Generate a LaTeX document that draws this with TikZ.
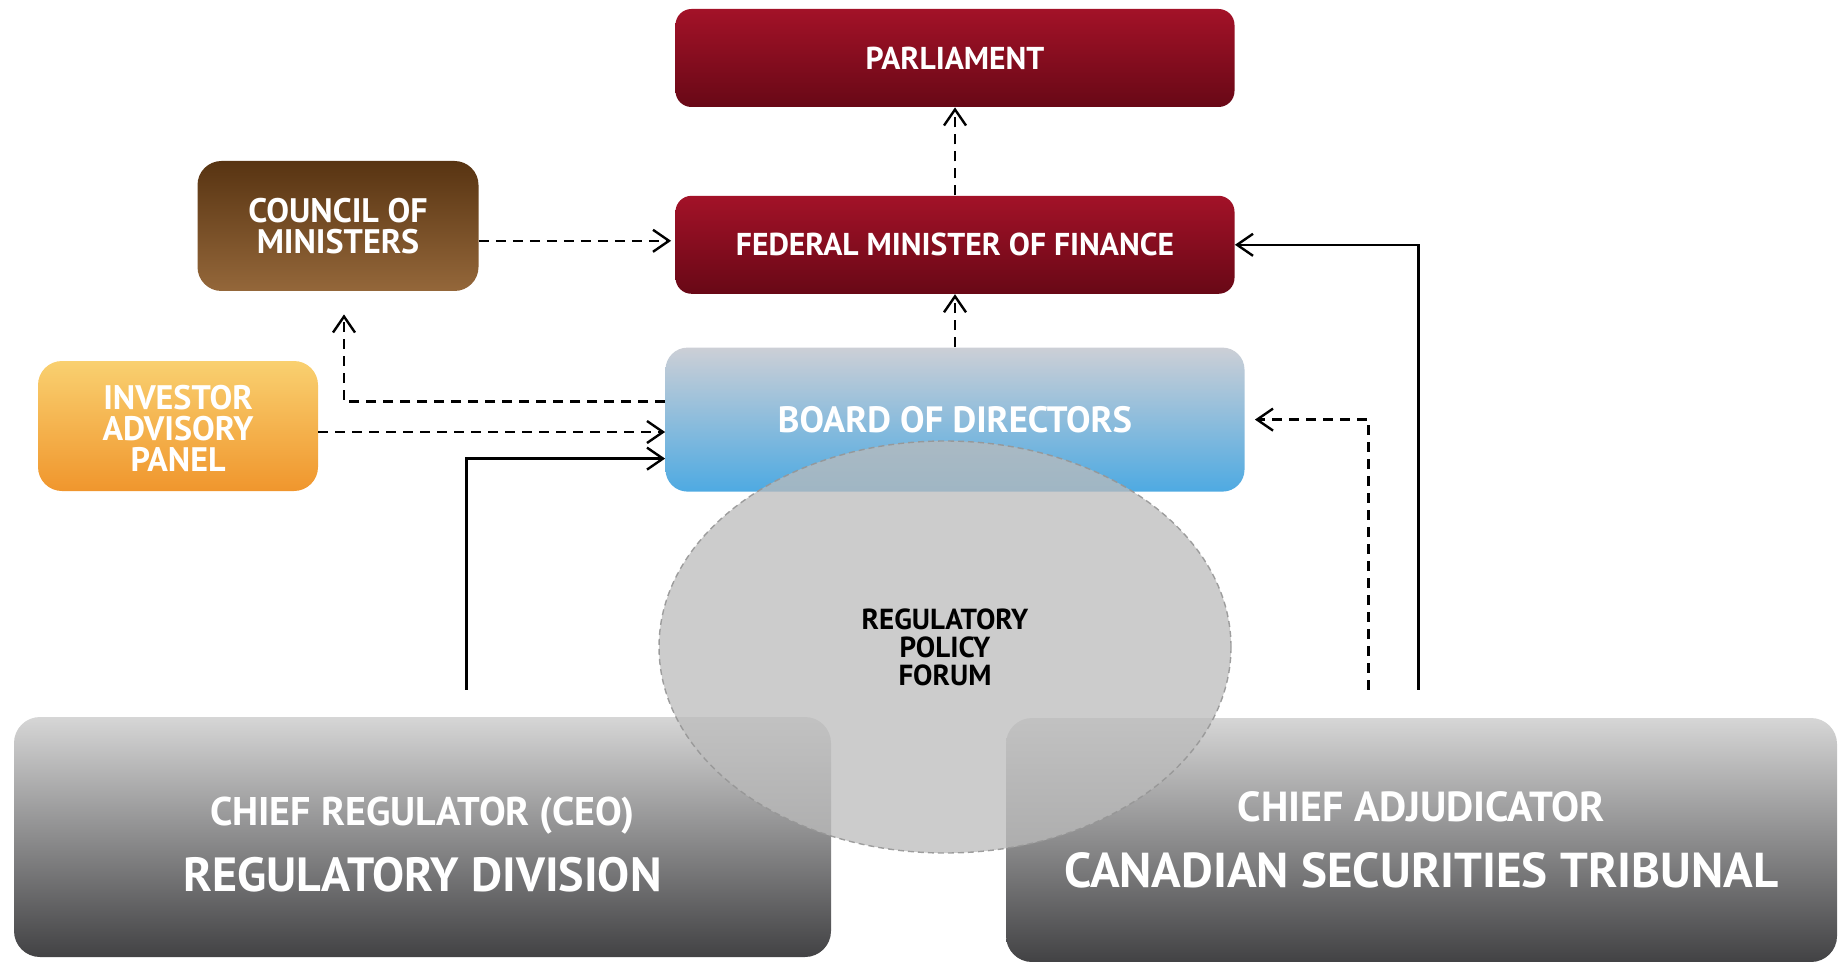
\documentclass[tikz,border=0pt]{standalone}
\usepackage{fontspec}
\newfontfamily\orgfont{PT Sans}
\usetikzlibrary{arrows.meta, positioning, shapes.geometric}

\definecolor{parltop}{RGB}{163,18,40}
\definecolor{parlbot}{RGB}{104,8,22}
\definecolor{counciltop}{RGB}{88,52,18}
\definecolor{councilbot}{RGB}{148,103,58}
\definecolor{investtop}{RGB}{249,208,112}
\definecolor{investbot}{RGB}{240,150,45}
\definecolor{boardtop}{RGB}{204,207,214}
\definecolor{boardbot}{RGB}{78,170,226}
\definecolor{greytop}{RGB}{214,214,214}
\definecolor{greymid}{RGB}{140,140,142}
\definecolor{greybot}{RGB}{66,66,68}
\definecolor{forumfill}{RGB}{187,187,187}
\definecolor{forumline}{RGB}{150,150,150}

\begin{document}
\begin{tikzpicture}[
  x=0.5pt, y=-0.5pt,
  box/.style={rectangle, rounded corners=8pt, text=white, align=center, inner sep=2pt},
  redbox/.style={box, top color=parltop, bottom color=parlbot, minimum width=279.5pt, minimum height=49pt, font=\orgfont\bfseries\fontsize{15.8}{18}\selectfont},
  councilbox/.style={box, rounded corners=12pt, top color=counciltop, bottom color=councilbot, minimum width=140.5pt, minimum height=65pt, font=\orgfont\bfseries\fontsize{17}{15.2}\selectfont},
  investbox/.style={box, rounded corners=12pt, top color=investtop, bottom color=investbot, minimum width=140pt, minimum height=65pt, font=\orgfont\bfseries\fontsize{17}{15.5}\selectfont},
  boardbox/.style={box, rounded corners=11pt, top color=boardtop, bottom color=boardbot, minimum width=289.5pt, minimum height=72pt, font=\orgfont\bfseries\fontsize{18.3}{21}\selectfont},
  greybox/.style={box, rounded corners=13pt, top color=greytop, middle color=greymid, bottom color=greybot, font=\orgfont\bfseries\fontsize{24}{33.2}\selectfont},
  forumshape/.style={ellipse, draw=forumline, line width=0.7pt, dash pattern=on 3pt off 2pt, fill=forumfill, fill opacity=0.75, draw opacity=0.9, text opacity=1, minimum width=286pt, minimum height=206pt, align=center, font=\orgfont\bfseries\fontsize{14.5}{14}\selectfont},
  dasharrow/.style={-{Straight Barb[length=8pt, width=11pt]}, line width=1.2pt, dash pattern=on 5pt off 3.5pt},
  solidarrow/.style={-{Straight Barb[length=8pt, width=11pt]}, line width=1.2pt}
]
  \useasboundingbox (0,0) rectangle (1839,962);

  % Top chain
  \node[redbox] (parliament) at (955,58) {PARLIAMENT};
  \node[redbox, below=44pt of parliament] (finance) {FEDERAL MINISTER OF FINANCE};
  \node[boardbox, below=26.5pt of finance] (board) {BOARD OF DIRECTORS};

  % Left side
  \node[councilbox] (council) at (338,226) {COUNCIL OF\\MINISTERS};
  \node[investbox] (investor) at (178,426) {\rule{0pt}{15pt}INVESTOR\\ADVISORY\\PANEL};

  % Bottom divisions
  \node[greybox, minimum width=408.5pt, minimum height=120pt] (regdiv) at (422.5,837)
    {{\fontsize{20}{20}\selectfont\rule{0pt}{22pt}CHIEF REGULATOR (CEO)}\\REGULATORY DIVISION};
  \node[greybox, minimum width=415.5pt, minimum height=122pt] (tribunal) at (1421.5,840)
    {{\fontsize{21}{21}\selectfont CHIEF ADJUDICATOR}\\{\fontsize{24.5}{33.2}\selectfont CANADIAN SECURITIES TRIBUNAL}};

  % Connections
  \draw[dasharrow] (finance.north) -- (parliament.south);
  \draw[dasharrow] (board.north) -- (finance.south);
  \draw[dasharrow] ([yshift=2pt]council.east |- finance.west) -- ([xshift=-2pt, yshift=2pt]finance.west);
  \draw[dasharrow] ([yshift=9pt]board.west) -| ([xshift=3pt, yshift=-11.5pt]council.south);
  \draw[dasharrow] ([yshift=-3pt]investor.east) -- ([yshift=-3pt]investor.east -| board.west);
  \draw[solidarrow] ([xshift=22pt, yshift=13.5pt]regdiv.north) |- ([yshift=-19.5pt]board.west);
  \draw[dasharrow] ([xshift=-26.5pt, yshift=14pt]tribunal.north) |- ([xshift=5pt]board.east);
  \draw[solidarrow] ([xshift=-1.5pt, yshift=14pt]tribunal.north) |- (finance.east);

  % Forum overlay
  \node[forumshape] (forum) at (945,647) {REGULATORY\\POLICY\\FORUM};
\end{tikzpicture}
\end{document}
